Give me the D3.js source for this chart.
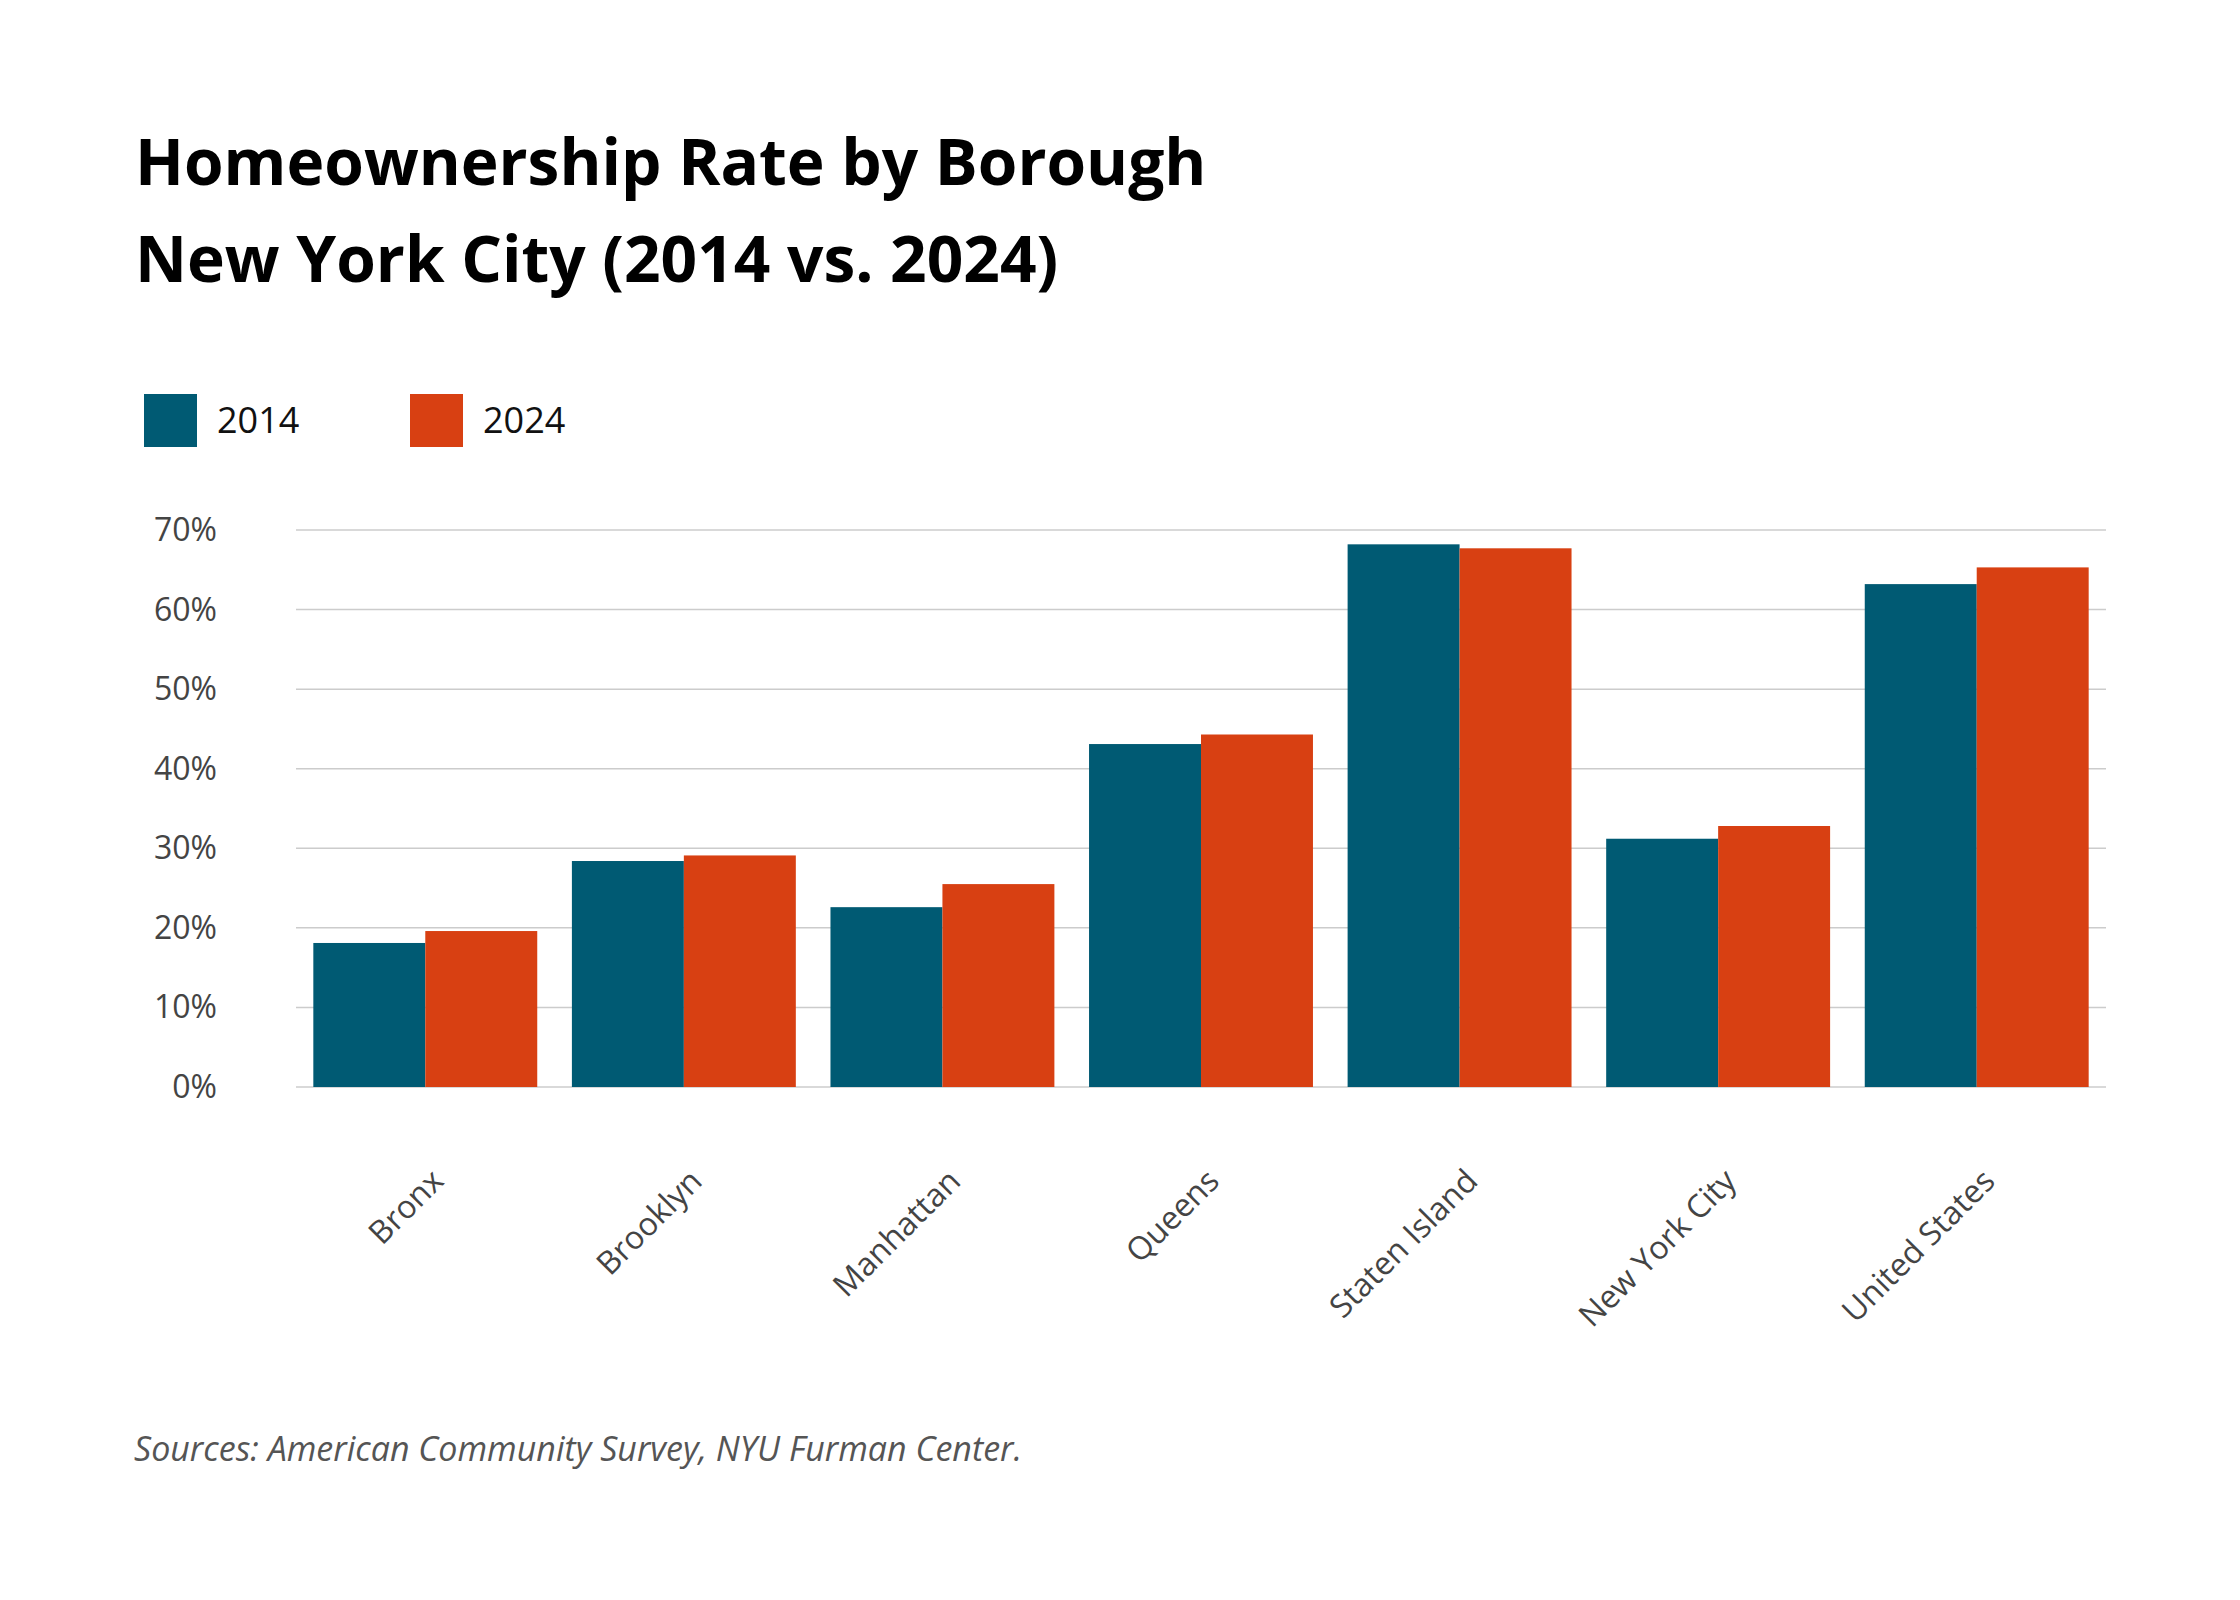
<!DOCTYPE html>
<html><head><meta charset="utf-8">
<script src="https://cdn.jsdelivr.net/npm/d3@7"></script>
<style>body{margin:0;background:#fff;font-family:"Open Sans",Lato,sans-serif;}</style>
</head><body>
<svg id="chart" width="2240" height="1600"></svg>
<script>
const categories = ["Bronx", "Brooklyn", "Manhattan", "Queens", "Staten Island", "New York City", "United States"];
const years = ["2014", "2024"];
const values2014 = [18.1, 28.4, 22.6, 43.1, 68.2, 31.2, 63.2];
const values2024 = [19.6, 29.1, 25.5, 44.3, 67.7, 32.8, 65.3];
const yTicks = [0, 10, 20, 30, 40, 50, 60, 70];
const colors = ["#005a73", "#d84012"];

const svg = d3.select("#chart");
const plotLeft = 296, plotRight = 2106, plotTop = 530, plotBottom = 1087;

svg.append("text").attr("x", 135).attr("y", 185).attr("font-size", 64).attr("font-weight", 700)
  .attr("fill", "#000").text("Homeownership Rate by Borough");
svg.append("text").attr("x", 135).attr("y", 282).attr("font-size", 64).attr("font-weight", 700)
  .attr("fill", "#000").text("New York City (2014 vs. 2024)");

// legend
years.forEach((yr, i) => {
  const x0 = 144 + i * 266;
  svg.append("rect").attr("x", x0).attr("y", 394).attr("width", 53).attr("height", 53).attr("fill", colors[i]);
  svg.append("text").attr("x", x0 + 73).attr("y", 433).attr("font-size", 36).attr("fill", "#111").text(yr);
});

const y = d3.scaleLinear().domain([0, 70]).range([plotBottom, plotTop]);
const x = d3.scaleBand().domain(categories).range([plotLeft, plotRight]).paddingInner(0.134).paddingOuter(0.067);
const xs = d3.scaleBand().domain(years).range([0, x.bandwidth()]);

svg.append("g").selectAll("line").data(yTicks).join("line")
  .attr("x1", plotLeft).attr("x2", plotRight).attr("y1", d => y(d)).attr("y2", d => y(d))
  .attr("stroke", "#cccccc").attr("stroke-width", 1.5);
svg.append("g").selectAll("text").data(yTicks).join("text")
  .attr("x", 217).attr("y", d => y(d) + 11).attr("text-anchor", "end")
  .attr("font-size", 32).attr("fill", "#444").text(d => d + "%");

const series = [values2014, values2024];
series.forEach((vals, s) => {
  svg.append("g").selectAll("rect").data(categories).join("rect")
    .attr("x", c => x(c) + xs(years[s]))
    .attr("width", xs.bandwidth())
    .attr("y", (c, i) => y(vals[i]))
    .attr("height", (c, i) => y(0) - y(vals[i]))
    .attr("fill", colors[s]);
});

svg.append("g").selectAll("text").data(categories).join("text")
  .attr("transform", c => `translate(${x(c) + x.bandwidth() / 2 + 20},${1183}) rotate(-45)`)
  .attr("text-anchor", "end").attr("font-size", 32).attr("fill", "#444").text(c => c);

svg.append("text").attr("x", 134).attr("y", 1461).attr("font-size", 34).attr("font-style", "italic")
  .attr("fill", "#555").text("Sources: American Community Survey, NYU Furman Center.");
</script>
</body></html>
